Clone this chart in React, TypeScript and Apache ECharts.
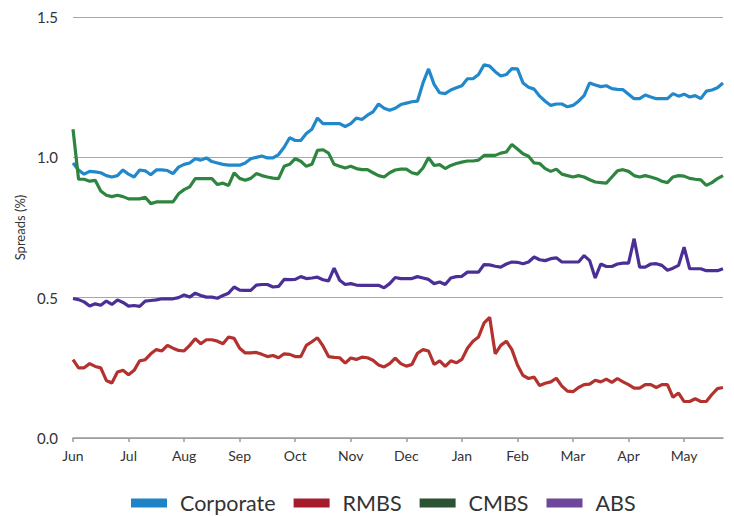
import React, { useEffect, useRef } from "react";
import * as echarts from "echarts";

const months = ["Jun", "Jul", "Aug", "Sep", "Oct", "Nov", "Dec", "Jan", "Feb", "Mar", "Apr", "May"];
const slotsPerMonth = 10;
const slotCount = 118;
const yTicks = [0, 0.5, 1.0, 1.5];

const corporate = [
  0.98, 0.955, 0.94, 0.95, 0.948, 0.945, 0.935, 0.93, 0.935, 0.955,
  0.94, 0.93, 0.955, 0.952, 0.938, 0.955, 0.955, 0.953, 0.942, 0.965,
  0.975, 0.98, 0.995, 0.99, 0.998, 0.985, 0.98, 0.975, 0.972, 0.972,
  0.972, 0.98, 0.995, 1.0, 1.005, 0.998, 0.998, 1.01, 1.036, 1.07,
  1.06, 1.06, 1.085, 1.1, 1.14, 1.12, 1.12, 1.12, 1.12, 1.11,
  1.12, 1.14, 1.135, 1.15, 1.162, 1.19, 1.175, 1.168, 1.175, 1.188,
  1.193, 1.198, 1.2, 1.265, 1.315, 1.26, 1.23, 1.227, 1.24, 1.248,
  1.255, 1.28, 1.28, 1.295, 1.33, 1.325, 1.305, 1.29, 1.295, 1.316,
  1.315, 1.265, 1.25, 1.243, 1.218, 1.2, 1.185, 1.19, 1.19, 1.18,
  1.185, 1.2, 1.22, 1.265, 1.258, 1.252, 1.255, 1.245, 1.242, 1.241,
  1.225, 1.209, 1.209, 1.222, 1.215, 1.209, 1.209, 1.209, 1.227, 1.218,
  1.225, 1.215, 1.22, 1.209, 1.236, 1.24, 1.248, 1.265,
];

const rmbs = [
  0.279, 0.25, 0.25, 0.265, 0.255, 0.25, 0.205, 0.196, 0.235, 0.241,
  0.225, 0.241, 0.275, 0.279, 0.3, 0.315, 0.31, 0.33, 0.32, 0.312,
  0.31, 0.33, 0.354, 0.336, 0.35, 0.35, 0.345, 0.336, 0.36, 0.355,
  0.32, 0.303, 0.303, 0.305, 0.298, 0.29, 0.294, 0.286, 0.3, 0.298,
  0.29, 0.29, 0.33, 0.343, 0.357, 0.328, 0.29, 0.287, 0.286, 0.267,
  0.285, 0.28, 0.288, 0.286, 0.277, 0.26, 0.253, 0.265, 0.285, 0.265,
  0.256, 0.262, 0.302, 0.315, 0.31, 0.262, 0.275, 0.255, 0.275, 0.268,
  0.28, 0.32, 0.345, 0.36, 0.41, 0.43, 0.3, 0.33, 0.345, 0.315,
  0.26, 0.223, 0.212, 0.217, 0.187, 0.195, 0.2, 0.213, 0.185, 0.167,
  0.165, 0.18, 0.19, 0.192, 0.206, 0.2, 0.21, 0.198, 0.212, 0.2,
  0.19, 0.178, 0.178, 0.19, 0.19, 0.18, 0.19, 0.19, 0.145, 0.16,
  0.13, 0.13, 0.14, 0.13, 0.13, 0.155, 0.176, 0.18,
];

const cmbs = [
  1.1, 0.922, 0.922, 0.915, 0.918, 0.88, 0.865, 0.86, 0.865, 0.86,
  0.852, 0.852, 0.852, 0.858, 0.835, 0.841, 0.841, 0.841, 0.841, 0.87,
  0.885, 0.895, 0.924, 0.924, 0.924, 0.924, 0.903, 0.908, 0.9, 0.945,
  0.925, 0.918, 0.925, 0.942, 0.935, 0.93, 0.926, 0.924, 0.968, 0.975,
  0.995, 0.986, 0.968, 0.975, 1.025, 1.027, 1.015, 0.975, 0.968, 0.962,
  0.968, 0.96, 0.956, 0.956, 0.945, 0.935, 0.93, 0.945, 0.955, 0.958,
  0.958, 0.945, 0.94, 0.962, 0.999, 0.971, 0.974, 0.96, 0.971, 0.978,
  0.983, 0.987, 0.987, 0.99, 1.007, 1.007, 1.007, 1.015, 1.019, 1.046,
  1.03, 1.013, 1.004, 0.98, 0.978, 0.96, 0.95, 0.958, 0.94, 0.935,
  0.93, 0.935, 0.93, 0.92, 0.912, 0.91, 0.908, 0.93, 0.952, 0.956,
  0.95, 0.935, 0.93, 0.935, 0.93, 0.924, 0.915, 0.91, 0.93, 0.935,
  0.933, 0.925, 0.922, 0.92, 0.9, 0.91, 0.924, 0.935,
];

const abs = [
  0.497, 0.493, 0.485, 0.47, 0.478, 0.473, 0.488, 0.476, 0.492, 0.483,
  0.47, 0.472, 0.469, 0.488, 0.49, 0.492, 0.496, 0.496, 0.496, 0.5,
  0.51, 0.502, 0.516, 0.508, 0.502, 0.502, 0.498, 0.508, 0.516, 0.538,
  0.527, 0.526, 0.526, 0.545, 0.547, 0.547, 0.538, 0.54, 0.565, 0.564,
  0.565, 0.575, 0.568, 0.57, 0.573, 0.564, 0.56, 0.605, 0.562, 0.547,
  0.55, 0.545, 0.544, 0.544, 0.544, 0.544, 0.535, 0.55, 0.572, 0.568,
  0.568, 0.568, 0.575, 0.57, 0.565, 0.55, 0.556, 0.547, 0.57, 0.575,
  0.576, 0.591, 0.591, 0.591, 0.618, 0.617, 0.612, 0.609, 0.62, 0.627,
  0.626, 0.621, 0.627, 0.645, 0.635, 0.632, 0.639, 0.642, 0.627, 0.627,
  0.627, 0.627, 0.65, 0.632, 0.57, 0.62, 0.611, 0.611, 0.62, 0.623,
  0.623, 0.71, 0.609, 0.609, 0.62, 0.621, 0.615, 0.598, 0.605, 0.615,
  0.68, 0.603, 0.603, 0.603, 0.596, 0.596, 0.596, 0.603,
];

const seriesDefs = [
  { name: "Corporate", data: corporate, line: "#2188cc", legend: "#1f84c6" },
  { name: "RMBS", data: rmbs, line: "#b3322e", legend: "#a51d2d" },
  { name: "CMBS", data: cmbs, line: "#2e8540", legend: "#2b5232" },
  { name: "ABS", data: abs, line: "#4b2e96", legend: "#6e479c" },
];

const categories: string[] = [];
for (let i = 0; i < slotCount; i++) {
  categories.push(months[Math.floor(i / slotsPerMonth)] + "-" + (i % slotsPerMonth));
}

const FONT = "Lato, 'Noto Sans', sans-serif";

export default function App() {
  const ref = useRef<HTMLDivElement>(null);
  useEffect(() => {
    if (!ref.current) return;
    const chart = echarts.init(ref.current, undefined, { renderer: "svg" });
    const isMonthStart = (idx: number) => idx % slotsPerMonth === 0;
    chart.setOption({
      animation: false,
      textStyle: { fontFamily: FONT },
      grid: { left: 73, right: 11, top: 17, bottom: 78, containLabel: false },
      legend: {
        left: 131,
        top: 492,
        padding: 0,
        itemWidth: 36,
        itemHeight: 9,
        itemGap: 18,
        icon: "rect",
        textStyle: { fontSize: 21.5, color: "#333", fontFamily: FONT, padding: [0, 0, 0, 8] },
        data: seriesDefs.map((s) => ({ name: s.name, itemStyle: { color: s.legend } })),
      },
      xAxis: {
        type: "category",
        data: categories,
        boundaryGap: false,
        axisLine: { show: true, lineStyle: { color: "#9a9a9a", width: 1.5 } },
        axisTick: { show: true, interval: (idx: number) => isMonthStart(idx), length: 4, lineStyle: { color: "#9a9a9a", width: 1.5 } },
        axisLabel: {
          interval: (idx: number) => isMonthStart(idx),
          formatter: (v: string) => v.split("-")[0],
          color: "#333",
          fontSize: 14,
          margin: 10,
          fontFamily: FONT,
        },
        splitLine: { show: false },
      },
      yAxis: {
        type: "value",
        min: yTicks[0],
        max: yTicks[yTicks.length - 1],
        interval: 0.5,
        name: "Spreads (%)",
        nameLocation: "middle",
        nameGap: 46,
        nameTextStyle: { fontSize: 13, color: "#333", fontFamily: FONT },
        axisLine: { show: false },
        axisTick: { show: false },
        axisLabel: { formatter: (v: number) => v.toFixed(1), color: "#333", fontSize: 15, margin: 15, fontFamily: FONT },
        splitLine: { show: true, lineStyle: { color: "#a8a8a8", width: 1.2 } },
      },
      series: seriesDefs.map((s) => ({
        name: s.name,
        type: "line",
        data: s.data,
        showSymbol: false,
        symbol: "none",
        lineStyle: { width: 3.2, color: s.line },
        itemStyle: { color: s.line },
      })),
    });
    return () => chart.dispose();
  }, []);
  return <div ref={ref} style={{ width: 734, height: 516, position: "absolute", left: 0, top: 0 }} />;
}
